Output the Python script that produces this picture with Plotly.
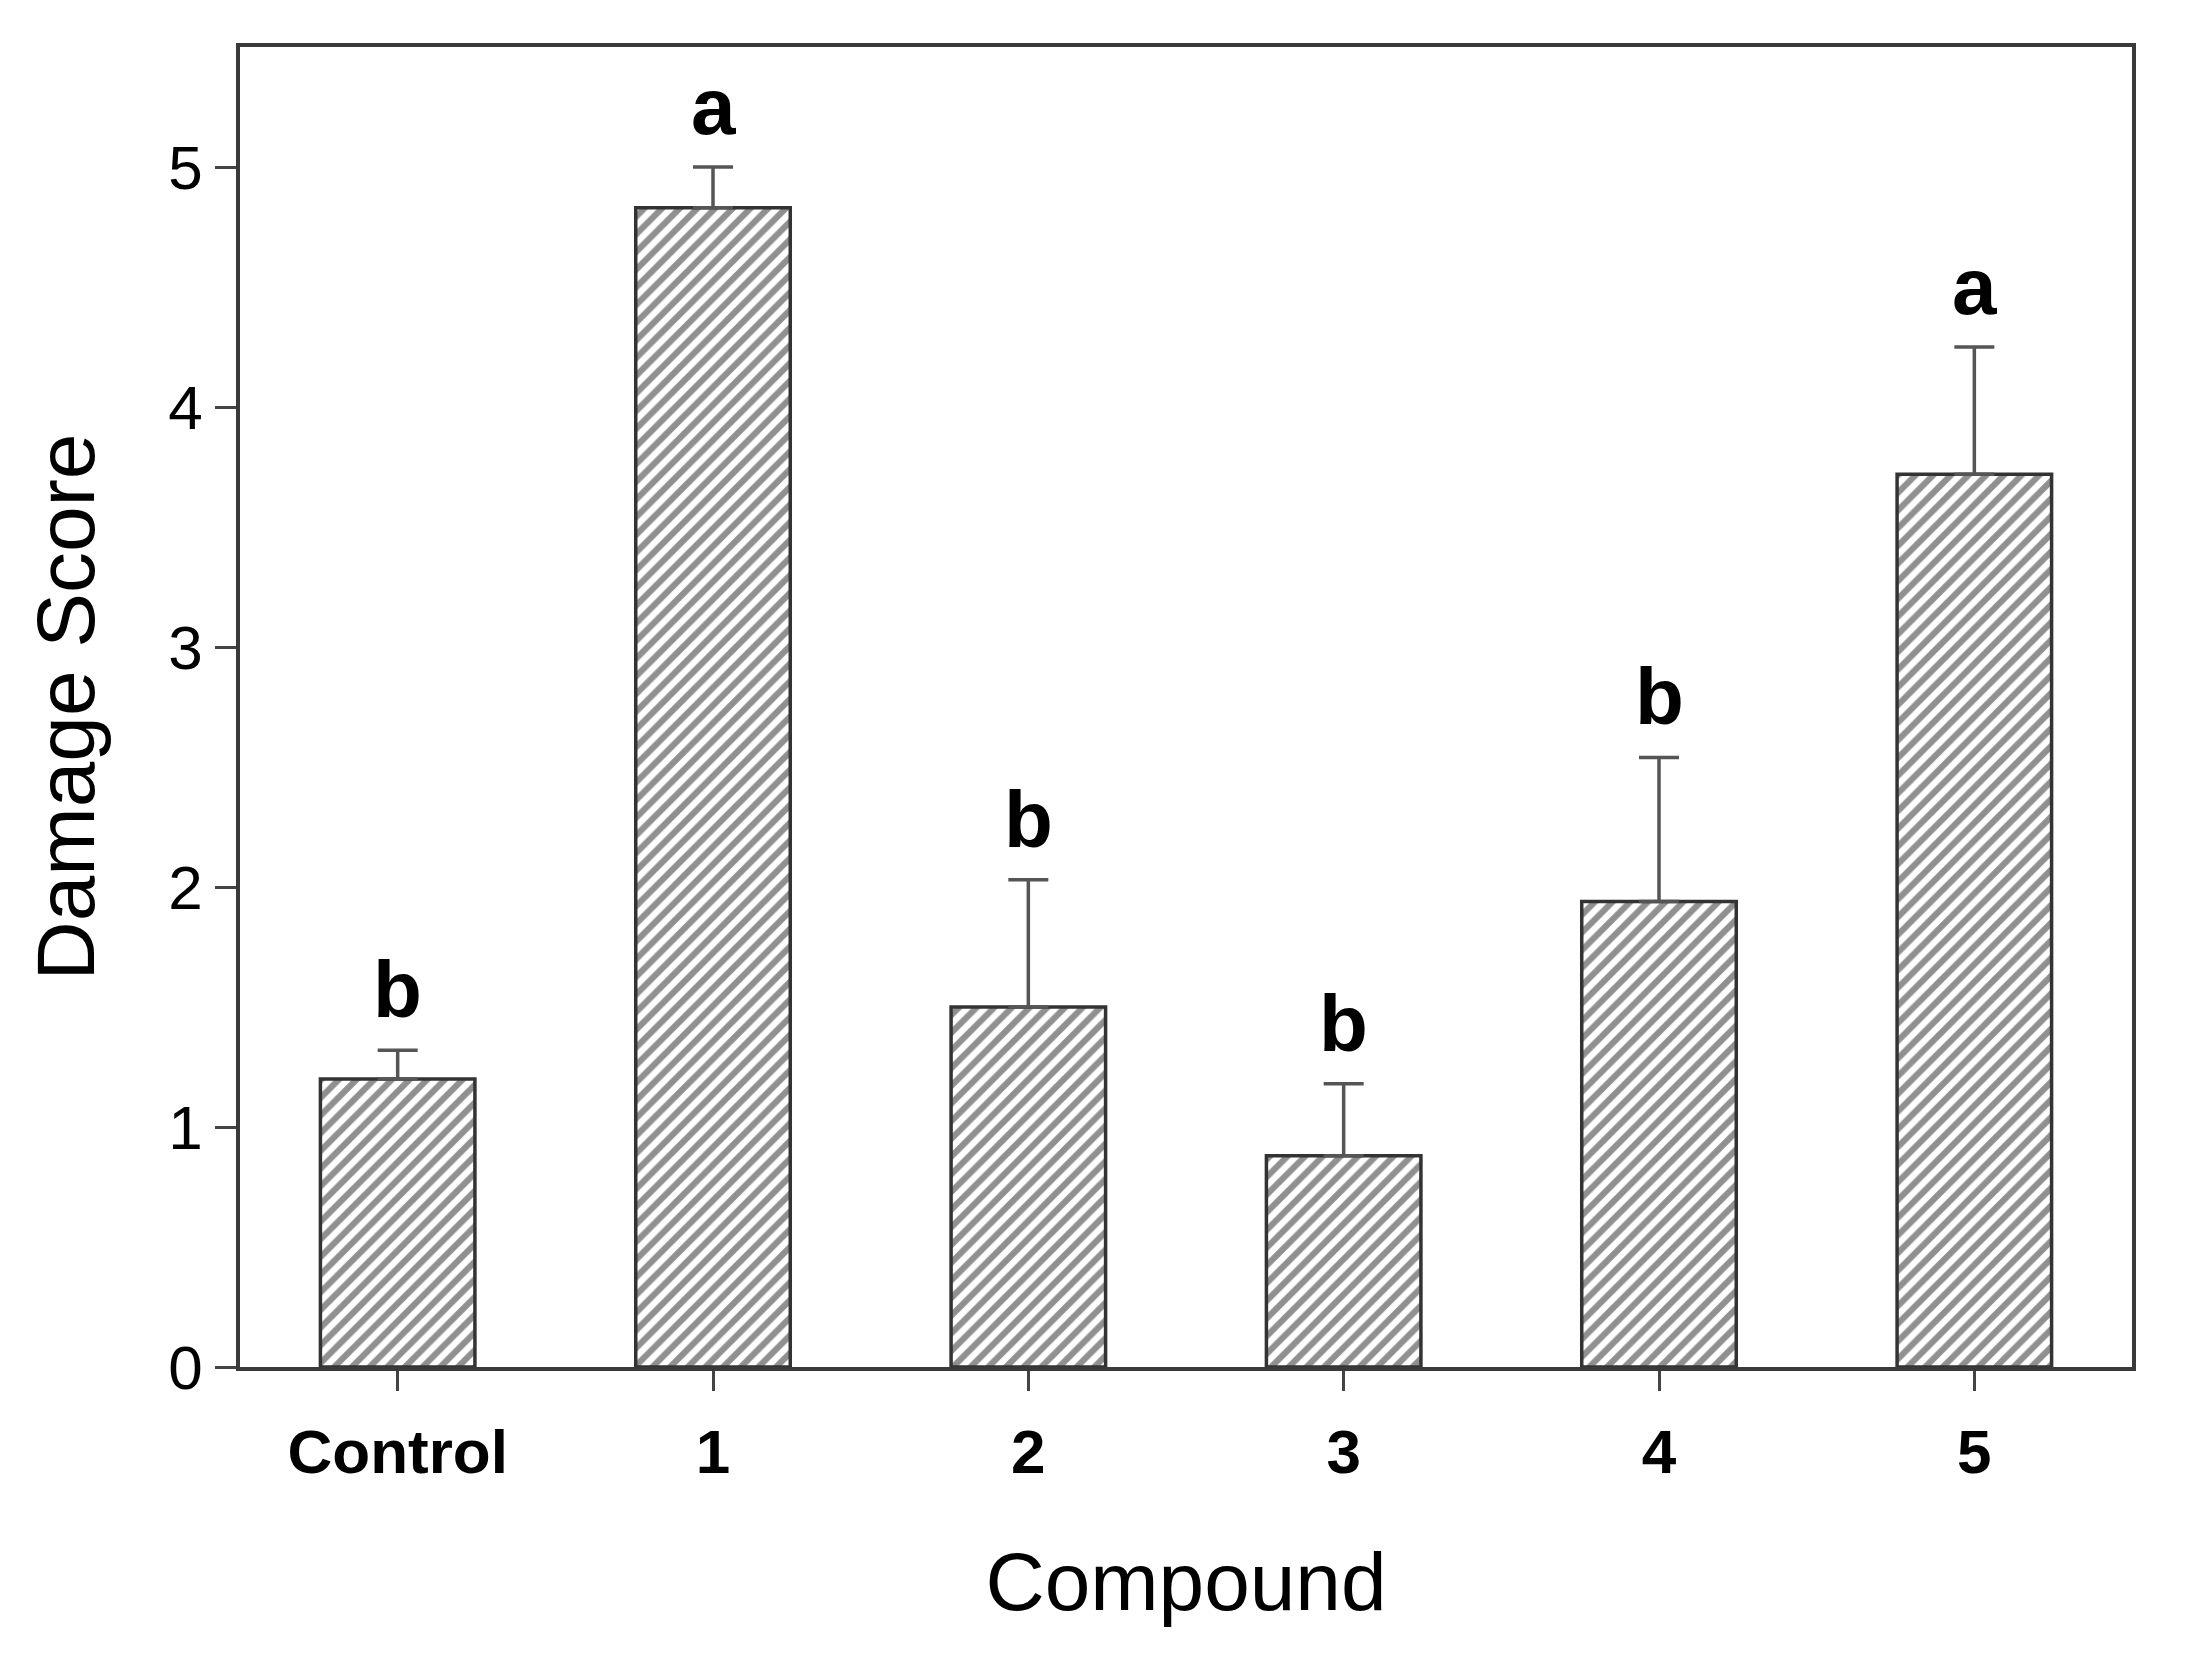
import plotly.graph_objects as go

categories = ["Control", "1", "2", "3", "4", "5"]
means = [1.20, 4.83, 1.50, 0.88, 1.94, 3.72]
upper_err = [0.12, 0.17, 0.53, 0.30, 0.60, 0.53]
letters = ["b", "a", "b", "b", "b", "a"]
y_ticks = [0, 1, 2, 3, 4, 5]

FONT = "Liberation Sans, Arial, sans-serif"

fig = go.Figure()
fig.add_trace(go.Bar(
    x=categories,
    y=means,
    width=0.49,
    marker=dict(
        color="white",
        line=dict(color="#333333", width=3.5),
        pattern=dict(shape="/", fgcolor="#222222", bgcolor="white", size=12.5, solidity=0.5),
    ),
    error_y=dict(
        type="data",
        symmetric=False,
        array=upper_err,
        arrayminus=[0] * len(upper_err),
        color="#555555",
        thickness=3.5,
        width=20,
    ),
    showlegend=False,
))

annotations = []
for c, m, e, l in zip(categories, means, upper_err, letters):
    annotations.append(dict(
        x=c, y=m + e, text="<b>%s</b>" % l, showarrow=False,
        xanchor="center", yanchor="bottom", yshift=14,
        font=dict(family=FONT, size=80, color="black"),
    ))

# page body has an 8px default margin, so the figure is sized/offset to compensate
fig.update_layout(
    width=2171, height=1643,
    margin=dict(l=232, r=47, t=39, b=284, autoexpand=False),
    paper_bgcolor="white", plot_bgcolor="white",
    font=dict(family=FONT, color="black"),
    annotations=annotations,
    bargap=0.5,
)

fig.update_xaxes(
    type="category", automargin=False,
    categoryorder="array", categoryarray=categories,
    range=[-0.5, 5.5],
    showline=True, linecolor="#3a3a3a", linewidth=3.5, mirror=True,
    ticks="outside", ticklen=20, tickwidth=3, tickcolor="#444444",
    tickvals=categories, ticktext=["<b>%s</b>" % c for c in categories],
    tickfont=dict(family=FONT, size=62, color="black"),
    ticklabelstandoff=8,
    showgrid=False, zeroline=False,
    title=dict(text="Compound", font=dict(family=FONT, size=82, color="black"), standoff=68),
)
fig.update_yaxes(
    range=[0, 5.5], automargin=False,
    tickvals=y_ticks,
    showline=True, linecolor="#3a3a3a", linewidth=3.5, mirror=True,
    ticks="outside", ticklen=21, tickwidth=3, tickcolor="#444444",
    tickfont=dict(family=FONT, size=62, color="black"),
    showgrid=False, zeroline=False,
    title=dict(text="Damage Score", font=dict(family=FONT, size=82, color="black"), standoff=48),
)

fig.write_html("out.html")
